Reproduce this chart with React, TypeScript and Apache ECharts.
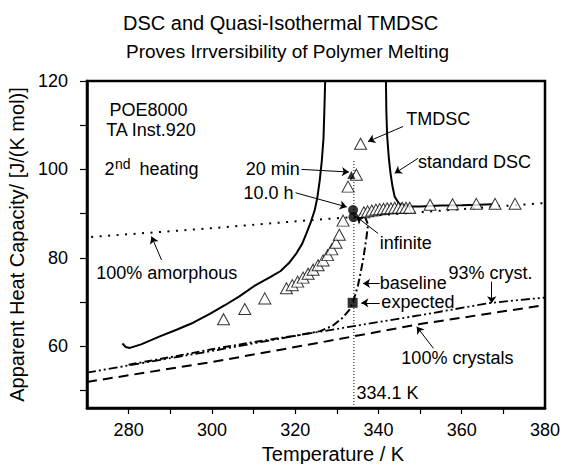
import React, { useEffect, useRef } from "react";
import * as echarts from "echarts";

// ---- data ----
const xTickLabels = [280, 300, 320, 340, 360, 380];
const xTicks = [280, 290, 300, 310, 320, 330, 340, 350, 360, 370];
const yTickLabels = [60, 80, 100, 120];
const yTicks = [50, 60, 70, 80, 90, 100, 110, 120];

// standard DSC (solid), left branch up to the top, then right branch down
const standardDSC: [number, number][] = [
  [278.5, 60.6], [279.3, 59.8], [280.3, 59.6], [283, 60.4], [287.5, 62.2],
  [291.5, 63.7], [295.5, 65.3], [299.5, 67.3], [303, 69.2], [306.5, 71.2],
  [310.5, 73.8], [314, 75.6], [316.5, 77.0], [318.5, 78.8], [320.3, 81.0],
  [321.7, 83.2], [322.7, 85.5], [323.8, 88.2], [324.7, 90.8], [325.3, 93.5],
  [325.9, 97.5], [326.4, 102], [326.8, 107], [327.0, 113], [327.2, 120],
  [327.3, 126], [334, 140], [341.7, 126], [341.8, 120], [341.9, 113],
  [342.1, 107.4], [342.5, 102.5], [342.9, 99.1], [343.4, 96], [343.9, 93.8],
  [345, 92.2], [347, 91.6], [350, 91.6], [355, 91.8], [360, 91.9],
  [364, 92.0], [367.5, 92.1],
];

// quasi-isothermal TMDSC (open triangles)
const tmdsc: [number, number][] = [
  [302.8, 66.1], [307.9, 68.4], [312.7, 70.8], [317.9, 73.1], [319.3, 73.8],
  [320.6, 74.6], [321.9, 75.5], [323.1, 76.4], [324.3, 77.3], [325.5, 78.3],
  [326.7, 79.4], [327.8, 80.6], [328.8, 81.9], [329.8, 83.4], [330.6, 85.2],
  [331.5, 88.4], [332.7, 96.1], [334.7, 98.8], [335.7, 105.8], [336.5, 90.3],
  [337.4, 90.5], [338.4, 90.7], [339.4, 90.9], [340.3, 91.0], [341.2, 91.1],
  [342.1, 91.2], [343.0, 91.2], [343.9, 91.3], [344.8, 91.3], [345.7, 91.3],
  [346.6, 91.3], [347.5, 91.3], [352.4, 92.0], [357.8, 92.1], [363.5, 92.2],
  [368, 92.2], [372.8, 92.2],
];

// 100% amorphous (dotted)
const amorphous: [number, number][] = [[271, 84.7], [300, 86.7], [323.5, 88.5], [350, 90.3], [380, 92.4]];
// 100% crystals (dashed)
const crystals: [number, number][] = [[270, 51.9], [300, 56.4], [323, 60.3], [350, 65.0], [380, 69.3]];
// 93% crystalline (dash-dot-dot)
const cryst93: [number, number][] = [[270, 54.0], [300, 58.9], [321, 62.5], [350, 67.0], [367, 69.8], [380, 71.0]];
// baseline (dash-dot)
const baseline: [number, number][] = [
  [280, 55.8], [290, 57.5], [300, 59.3], [310, 60.9], [321, 62.5], [326, 63.4],
  [329, 64.6], [331.5, 66.5], [333, 68.2], [333.8, 69.8], [334.5, 71.8],
  [335.1, 73.8], [335.8, 77], [336.4, 80], [337.1, 84.5], [337.5, 87.5],
  [336.8, 89.2], [335.6, 90],
];
// vertical marker at 334.1 K
const meltLine: [number, number][] = [[334.1, 46], [334.1, 102]];
// filled points
const twentyMin: [number, number] = [333.5, 98.7];
const tenHours: [number, number] = [333.9, 90.8];
const infinite: [number, number] = [334.0, 89.2];
const expected: [number, number] = [333.8, 69.8];

// ---- annotations ----
const FONT = "Liberation Sans, Arial, Helvetica, sans-serif";
type Note = { text: string; at: [number, number]; align: "left" | "right"; size?: number };
const notes: Note[] = [
  { text: "POE8000", at: [275.4, 113.4], align: "left" },
  { text: "TA Inst.920", at: [274.6, 108.9], align: "left" },
  { text: "2", at: [274.2, 100.1], align: "left" },
  { text: "nd", at: [276.7, 101.2], align: "left", size: 14 },
  { text: "heating", at: [282.6, 100.1], align: "left" },
  { text: "20 min", at: [321.1, 100.0], align: "right" },
  { text: "10.0 h", at: [319.6, 94.7], align: "right" },
  { text: "TMDSC", at: [346.7, 111.3], align: "left" },
  { text: "standard DSC", at: [349.5, 101.7], align: "left" },
  { text: "infinite", at: [340.3, 83.3], align: "left" },
  { text: "100% amorphous", at: [272.2, 76.5], align: "left" },
  { text: "baseline", at: [340.3, 74.2], align: "left" },
  { text: "93% cryst.", at: [356.8, 76.5], align: "left" },
  { text: "expected", at: [340.7, 70.1], align: "left" },
  { text: "100% crystals", at: [345.5, 57.3], align: "left" },
  { text: "334.1 K", at: [334.7, 49.3], align: "left" },
];
const arrows: [[number, number], [number, number]][] = [
  [[321.5, 100.0], [332.9, 99.4]],
  [[320.1, 94.7], [332.4, 91.5]],
  [[345.9, 109.7], [337.5, 106.3]],
  [[349.5, 102.5], [343.9, 99.1]],
  [[339.9, 85.5], [334.7, 89.3]],
  [[287.9, 79.5], [285.5, 84.8]],
  [[340.3, 74.2], [336.3, 74.2]],
  [[367.2, 74.6], [367.2, 69.7]],
  [[340.3, 69.8], [335.9, 69.8]],
  [[353.2, 59.5], [349.2, 64.4]],
];

export default function App() {
  const ref = useRef<HTMLDivElement>(null);
  useEffect(() => {
    const chart = echarts.init(ref.current!, null, { renderer: "svg" });
    const lineBase = {
      type: "line",
      showSymbol: false,
      symbol: "none",
      clip: true,
      silent: true,
    };
    const option: any = {
      animation: false,
      backgroundColor: "#fff",
      textStyle: { fontFamily: FONT, color: "#000" },
      title: [
        {
          text: "DSC and Quasi-Isothermal TMDSC",
          left: 118,
          top: 8,
          textStyle: { fontSize: 20, fontWeight: "normal", color: "#000", fontFamily: FONT },
        },
        {
          text: "Proves Irrversibility of Polymer Melting",
          left: 121,
          top: 37,
          textStyle: { fontSize: 19, fontWeight: "normal", color: "#000", fontFamily: FONT },
        },
      ],
      grid: {
        left: 87,
        right: 17,
        top: 81,
        bottom: 56,
        show: true,
        borderColor: "#000",
        borderWidth: 2.5,
        backgroundColor: "transparent",
        outerBoundsMode: "none",
      },
      xAxis: {
        type: "value",
        min: 270,
        max: 380,
        name: "Temperature / K",
        nameLocation: "middle",
        nameGap: 35,
        nameTextStyle: { fontSize: 20, color: "#000", fontFamily: FONT, padding: [0, 0, 0, 34] },
        axisLine: { show: true, lineStyle: { color: "#000", width: 2.5 } },
        axisTick: { show: true, inside: false, length: 6, customValues: xTicks, lineStyle: { color: "#000", width: 1.2 } },
        axisLabel: { fontSize: 18, color: "#000", margin: 13, fontFamily: FONT, customValues: xTickLabels },
        splitLine: { show: false },
      },
      yAxis: {
        type: "value",
        min: 46,
        max: 120,
        name: "Apparent Heat Capacity/ [J/(K mol)]",
        nameLocation: "middle",
        nameGap: 51,
        nameTextStyle: { fontSize: 20, color: "#000", fontFamily: FONT },
        axisLine: { show: true, lineStyle: { color: "#000", width: 2.5 } },
        axisTick: { show: true, inside: false, length: 7, customValues: yTicks, lineStyle: { color: "#000", width: 1.2 } },
        axisLabel: { fontSize: 18, color: "#000", margin: 19, fontFamily: FONT, customValues: yTickLabels },
        splitLine: { show: false },
      },
      series: [
        { ...lineBase, name: "100% amorphous", data: amorphous, lineStyle: { color: "#000", width: 2, type: [2, 6.5] }, z: 2 },
        { ...lineBase, name: "100% crystals", data: crystals, lineStyle: { color: "#000", width: 2, type: [10, 6] }, z: 2 },
        { ...lineBase, name: "93% cryst.", data: cryst93, lineStyle: { color: "#000", width: 1.8, type: [9, 3, 2, 3, 2, 3] }, z: 2 },
        { ...lineBase, name: "baseline", data: baseline, lineStyle: { color: "#000", width: 2, type: [8, 3, 2, 3] }, z: 2 },
        { ...lineBase, name: "standard DSC", data: standardDSC, lineStyle: { color: "#000", width: 2 }, z: 3 },
        {
          ...lineBase,
          name: "334.1 K",
          data: meltLine,
          lineStyle: { color: "#000", width: 1, type: [1, 2] },
          z: 2,
          markLine: {
            silent: true,
            animation: false,
            symbol: ["none", "arrow"],
            symbolSize: 7,
            label: { show: false },
            lineStyle: { color: "#000", width: 1, type: "solid" },
            emphasis: { disabled: true },
            data: arrows.map(([a, b]) => [{ coord: a }, { coord: b }]),
          },
        },
        {
          type: "scatter",
          name: "TMDSC",
          data: tmdsc,
          symbol: "triangle",
          symbolSize: [12, 11],
          itemStyle: { color: "#fff", borderColor: "#000", borderWidth: 1 },
          silent: true,
          z: 4,
        },
        {
          type: "scatter",
          name: "points",
          silent: true,
          z: 5,
          itemStyle: { color: "#000" },
          data: [
            { value: twentyMin, symbol: "triangle", symbolSize: 8 },
            { value: tenHours, symbol: "circle", symbolSize: 10 },
            { value: infinite, symbol: "circle", symbolSize: 10 },
            { value: expected, symbol: "rect", symbolSize: 10 },
          ],
        },
      ],
    };
    chart.setOption(option);
    const graphic = notes.map((n) => {
      const p = chart.convertToPixel({ gridIndex: 0 }, n.at) as number[];
      return {
        type: "text",
        x: p[0],
        y: p[1],
        silent: true,
        z: 10,
        style: {
          text: n.text,
          fill: "#000",
          fontSize: n.size ?? 18,
          fontFamily: FONT,
          align: n.align,
          textAlign: n.align,
          verticalAlign: "middle",
          textVerticalAlign: "middle",
        },
      };
    });
    chart.setOption({ graphic });
    return () => chart.dispose();
  }, []);
  return <div ref={ref} style={{ position: "fixed", left: 0, top: 0, width: 562, height: 464 }} />;
}
